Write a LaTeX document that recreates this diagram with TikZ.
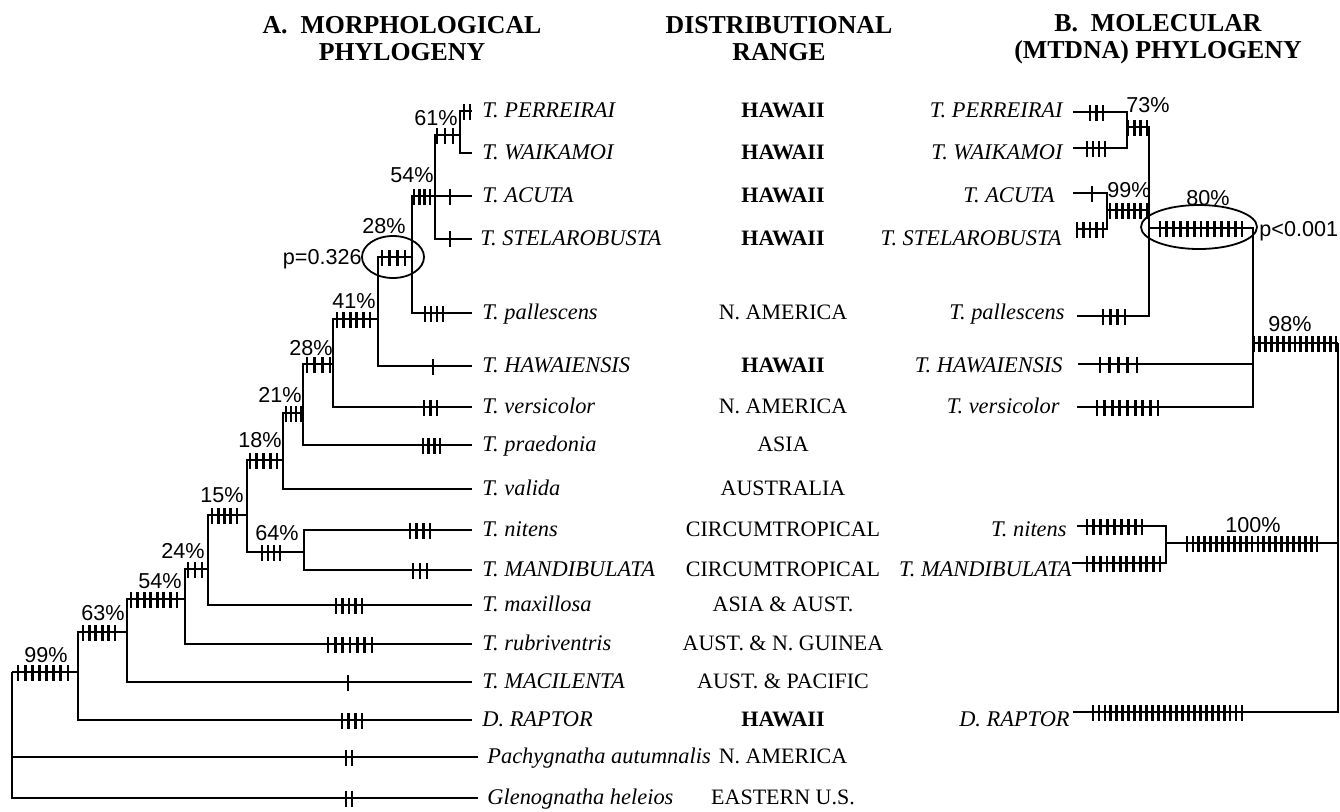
\documentclass[tikz,border=0pt]{standalone}
\usepackage{fontspec}
\setmainfont{Liberation Serif}
\setsansfont{Liberation Sans}
\usetikzlibrary{positioning}

\begin{document}
\begin{tikzpicture}[x=0.5pt, y=-0.5pt,
  branch/.style={draw=black, line width=1.3pt, line join=miter},
  tick/.style={draw=black, line width=1.4pt},
  ring/.style={draw=black, line width=0.9pt},
  pct/.style={font=\sffamily\fontsize{10.8}{12}\selectfont, inner sep=0pt, anchor=base},
  sp/.style={font=\itshape\fontsize{11.2}{13}\selectfont, inner sep=0pt},
  rng/.style={font=\fontsize{11}{13}\selectfont, inner sep=0pt, anchor=base},
  head/.style={font=\bfseries\fontsize{12.9}{13.5}\selectfont, align=center},
]
\useasboundingbox (0,0) rectangle (1340,811);

% Headings
\node[head] (hA) at (402,39) {A.~~MORPHOLOGICAL\\PHYLOGENY};
\node[head] (hR) at (779,39) {DISTRIBUTIONAL\\RANGE};
\node[head] (hB) at (1158,39) {B.~~MOLECULAR\\(MTDNA) PHYLOGENY};

% A: tips, labels and ranges (name/row/tip x/label x/species/range)
\foreach \nm/\y/\tx/\lx/\txt/\rg in {
    perr/111/472/482/T. PERREIRAI/\textbf{HAWAII},
    waik/153/472/482/T. WAIKAMOI/\textbf{HAWAII},
    acut/196/472/482/T. ACUTA/\textbf{HAWAII},
    stel/239/472/480/T. STELAROBUSTA/\textbf{HAWAII},
    pall/313/472/482/T. pallescens/N. AMERICA,
    hawa/366/472/482/T. HAWAIENSIS/\textbf{HAWAII},
    vers/407/472/482/T. versicolor/N. AMERICA,
    prae/445/472/482/T. praedonia/ASIA,
    vali/489/472/482/T. valida/AUSTRALIA,
    nite/530/472/482/T. nitens/CIRCUMTROPICAL,
    mand/570/472/482/T. MANDIBULATA/CIRCUMTROPICAL,
    maxi/605/472/482/T. maxillosa/ASIA \& AUST.,
    rubr/644/472/482/T. rubriventris/AUST. \& N. GUINEA,
    maci/682/472/482/T. MACILENTA/AUST. \& PACIFIC,
    rapt/720/472/482/D. RAPTOR/\textbf{HAWAII},
    pach/757/478/487/Pachygnatha autumnalis/N. AMERICA,
    glen/798/478/487/Glenognatha heleios/EASTERN U.S.} {
  \coordinate (t-\nm) at (\tx,\y);
  \node[sp, anchor=base west] (l-\nm) at (\lx,\y+6) {\txt};
  \node[rng] (r-\nm) at (783,\y+6) {\rg};
}

% A: internal nodes (vertical x, stem y)
\coordinate (aRoot) at (12,672);
\coordinate (a99) at (78,672);
\coordinate (a63) at (127,632);
\coordinate (a54) at (185,599);
\coordinate (a24) at (208,569);
\coordinate (a15) at (247,515);
\coordinate (a64) at (304,552);
\coordinate (a18) at (283,460);
\coordinate (a21) at (303,413);
\coordinate (a28) at (333,364);
\coordinate (a41) at (378,319);
\coordinate (a28u) at (412,257);
\coordinate (a54u) at (435,196);
\coordinate (a61) at (460,135);

\foreach \p/\c in {aRoot/a99, aRoot/t-pach, aRoot/t-glen,
    a99/a63, a99/t-rapt, a63/a54, a63/t-maci, a54/a24, a54/t-rubr,
    a24/a15, a24/t-maxi, a15/a18, a15/a64, a64/t-nite, a64/t-mand,
    a18/a21, a18/t-vali, a21/a28, a21/t-prae, a28/a41, a28/t-vers,
    a41/a28u, a41/t-hawa, a28u/a54u, a28u/t-pall,
    a54u/a61, a54u/t-acut, a54u/t-stel, a61/t-perr, a61/t-waik}
  \draw[branch] (\p) |- (\c);

% B: tips and labels (name/row/line y/line x/label end)
\foreach \nm/\y/\ly/\tx/\ex/\txt in {
    perr/111/112/1073/1063/T. PERREIRAI,
    waik/153/148/1073/1063/T. WAIKAMOI,
    acut/196/193/1073/1055/T. ACUTA,
    stel/239/229/1077/1062/T. STELAROBUSTA,
    pall/313/316/1077/1065/T. pallescens,
    hawa/366/364/1078/1063/T. HAWAIENSIS,
    vers/407/407/1077/1060/T. versicolor,
    nite/530/526/1077/1067/T. nitens,
    mand/570/563/1072/1072/T. MANDIBULATA,
    rapt/720/712/1073/1070/D. RAPTOR} {
  \coordinate (u-\nm) at (\tx,\ly);
  \node[sp, anchor=base east] (m-\nm) at (\ex,\y+6) {\txt};
}

\coordinate (bRoot) at (1338,343);
\coordinate (b98) at (1253,343);
\coordinate (b80) at (1149,228);
\coordinate (b73) at (1127,127);
\coordinate (b99) at (1107,210);
\coordinate (b100) at (1166,543);

\foreach \p/\c in {bRoot/b98, bRoot/b100, bRoot/u-rapt,
    b98/b80, b98/u-hawa, b98/u-vers, b80/b73, b80/b99, b80/u-pall,
    b73/u-perr, b73/u-waik, b99/u-acut, b99/u-stel, b100/u-nite, b100/u-mand}
  \draw[branch] (\p) |- (\c);

% Character changes (from x/to x/count/y)
\foreach \xa/\xb/\n/\y in {
    18/68/8/672, 83/115/6/632, 131/177/8/599, 188/202/3/569, 212/237/5/515,
    262/280/4/552, 250/277/5/460, 286/301/4/413, 307/330/4/364, 337/370/6/319,
    382/405/4/257, 414/430/4/196, 437/453/3/135, 464/470/2/111,
    450/450/1/196, 450/450/1/238, 425/443/4/313, 433/433/1/366, 424/437/3/407,
    423/440/4/445, 410/430/4/530, 413/427/3/570, 336/362/5/605, 328/372/7/644,
    348/348/1/682, 342/362/4/720, 346/352/2/757, 346/352/2/798,
    1090/1103/3/112, 1087/1105/4/148, 1128/1147/4/127, 1092/1092/1/193,
    1077/1103/5/229, 1110/1147/7/210, 1103/1125/4/316, 1160/1242/13/228,
    1254/1336/15/343, 1100/1137/5/364, 1097/1158/9/407, 1087/1142/9/526,
    1087/1160/12/563, 1187/1317/23/543, 1093/1242/26/712} {
  \pgfmathsetmacro{\dx}{(\xb-\xa)/max(\n-1,1)}
  \foreach \k in {1,...,\n}
    \draw[tick] ({\xa+(\k-1)*\dx},\y-7) -- ++(0,16);
}

% Bootstrap values
\foreach \nm/\x/\y/\txt in {
    p99/46/662/99\%, p63/103/620/63\%, p54/160/588/54\%, p24/183/558/24\%,
    p64/277/540/64\%, p15/222/502/15\%, p18/260/447/18\%, p21/280/402/21\%,
    p28/311/355/28\%, p41/354/308/41\%, p28u/384/233/28\%, p54u/412/182/54\%,
    p61/436/125/61\%, q73/1148/112/73\%, q99/1129/197/99\%, q80/1208/205/80\%,
    q98/1290/331/98\%, q100/1253/532/100\%}
  \node[pct] (\nm) at (\x,\y) {\txt};

% Circled branches
\draw[ring] (393,257) ellipse [x radius=15.5pt, y radius=10.5pt];
\node[pct, anchor=base east] (pA) at (362,264) {p=0.326};
\draw[ring] (1199,227) ellipse [x radius=29pt, y radius=11pt];
\node[pct, anchor=base west] (pB) at (1259,236) {p<0.001};

\end{tikzpicture}
\end{document}
